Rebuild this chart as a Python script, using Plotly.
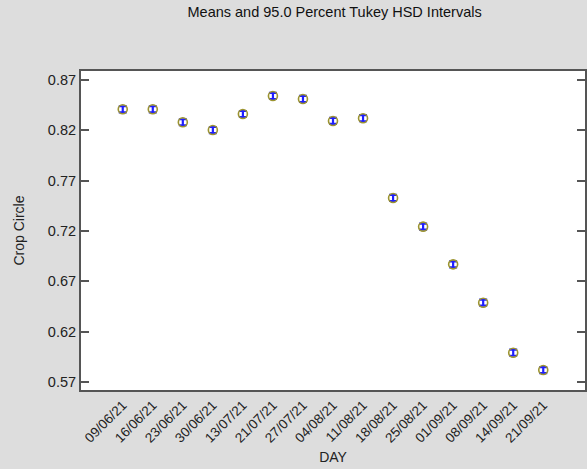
import plotly.graph_objects as go

days = ["09/06/21", "16/06/21", "23/06/21", "30/06/21", "13/07/21", "21/07/21",
        "27/07/21", "04/08/21", "11/08/21", "18/08/21", "25/08/21", "01/09/21",
        "08/09/21", "14/09/21", "21/09/21"]
means = [0.8409, 0.8409, 0.8280, 0.8203, 0.8362, 0.8541, 0.8511, 0.8293,
         0.8320, 0.7528, 0.7243, 0.6869, 0.6488, 0.5991, 0.5819]
half_width = [0.003] * len(days)
y_ticks = [0.57, 0.62, 0.67, 0.72, 0.77, 0.82, 0.87]

idx = list(range(len(days)))

fig = go.Figure()
fig.add_trace(go.Scatter(
    x=idx, y=means, mode="markers",
    marker=dict(symbol="circle-open", size=9, color="#9c9430", line=dict(width=1.6)),
    error_y=dict(type="data", array=half_width, color="#1f1fff", thickness=2.2, width=4),
    showlegend=False,
))

font = "Liberation Sans, Arial, sans-serif"
fig.update_layout(
    width=587, height=469,
    margin=dict(l=81, r=0, t=71, b=79),
    paper_bgcolor="#dddddd", plot_bgcolor="white",
    font=dict(family=font, size=14, color="#222222"),
    title=dict(text="Means and 95.0 Percent Tukey HSD Intervals", x=0.57, xanchor="center",
               y=0.985, yanchor="top", font=dict(size=14.5, color="#111111")),
    xaxis=dict(
        range=[-1.39, 15.39], tickmode="array", tickvals=idx, ticktext=days,
        tickangle=-45, ticks="", showgrid=False, zeroline=False,
        showline=True, linecolor="#555555", linewidth=2, mirror=True,
        title=dict(text="DAY", standoff=8, font=dict(size=14)),
        tickfont=dict(size=13.5),
    ),
    yaxis=dict(
        range=[0.5621, 0.8789], tickmode="array", tickvals=y_ticks,
        ticktext=[f"{v:.2f}" for v in y_ticks],
        ticks="inside", ticklen=8, tickwidth=2, tickcolor="#555555",
        showgrid=False, zeroline=False,
        showline=True, linecolor="#555555", linewidth=2, mirror="ticks",
        title=dict(text="Crop Circle", standoff=20, font=dict(size=14)),
        tickfont=dict(size=14.5),
    ),
)

fig.write_html("out.html")
